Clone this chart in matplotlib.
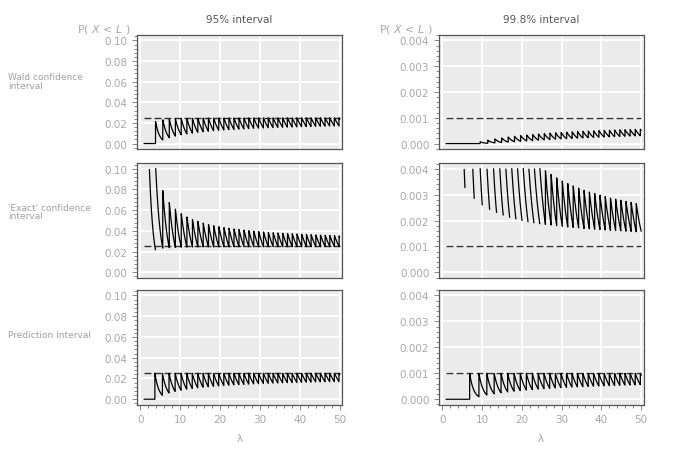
import numpy as np
import matplotlib
matplotlib.use("Agg")
import matplotlib.pyplot as plt
from matplotlib.ticker import FixedLocator, AutoMinorLocator
from math import lgamma

# ---- chart parameters / data ----
lambda_start = 1.0
lambda_stop = 50.0
lambda_step = 0.01
col_titles = ["95% interval", "99.8% interval"]
row_labels = ["Wald confidence\ninterval", "'Exact' confidence\ninterval", "Prediction interval"]
levels = [0.95, 0.998]
z_values = [1.959964, 3.090232]
y_caps = [0.10, 0.004]
y_ticks_95 = [0.00, 0.02, 0.04, 0.06, 0.08, 0.10]
y_ticks_998 = [0.000, 0.001, 0.002, 0.003, 0.004]
y_tick_fmt = ["{:.2f}", "{:.3f}"]
x_ticks = [0, 10, 20, 30, 40, 50]

# ---- Poisson machinery ----
lam = np.arange(lambda_start, lambda_stop + lambda_step / 2, lambda_step)
m = np.arange(0, 91)
vlgamma = np.vectorize(lgamma)
logpmf = m[:, None] * np.log(lam[None, :]) - lam[None, :] - vlgamma(m + 1.0)[:, None]
pmf = np.exp(logpmf)
cdf = np.cumsum(pmf, axis=0)

# regularized lower incomplete gamma P(a=lam, x=m)
a = lam[None, :]
x = m[:, None].astype(float)
term = np.ones((len(m), len(lam)))
S = np.ones((len(m), len(lam)))
for n in range(1, 500):
    term = term * x / (a + n)
    S = S + term
logpref = a * np.log(np.where(x > 0, x, 1.0)) - x - vlgamma(lam + 1.0)[None, :]
Pgam = np.where(x > 0, np.exp(logpref) * S, 0.0)


def wald_p(alpha2, z):
    L = lam - z * np.sqrt(lam)
    return np.where(m[:, None] < L[None, :], pmf, 0.0).sum(axis=0)


def exact_p(alpha2):
    return np.where(Pgam < alpha2, pmf, 0.0).sum(axis=0)


def pred_p(alpha2):
    return np.where(cdf <= alpha2, cdf, 0.0).max(axis=0)


# ---- figure ----
W, H = 685, 456
fig = plt.figure(figsize=(W / 100, H / 100), dpi=100)

col_x = [(137, 342), (439, 643.5)]
row_y = [(36, 150), (164.3, 278.8), (291, 405.7)]
xlims = (-0.8, 50.6)
ylims = [(-0.0053, 0.1053), (-0.00021, 0.00421)]
label_offsets = [11, 9, 13]

tick_col = "#a8a8a8"
fs = 7.5

for c in range(2):
    alpha2 = (1 - levels[c]) / 2
    series = [wald_p(alpha2, z_values[c]), exact_p(alpha2), pred_p(alpha2)]
    yt = y_ticks_95 if c == 0 else y_ticks_998
    for r in range(3):
        x0, x1 = col_x[c]
        y0, y1 = row_y[r]
        ax = fig.add_axes([x0 / W, 1 - y1 / H, (x1 - x0) / W, (y1 - y0) / H])
        ax.set_facecolor("#ebebeb")
        ax.set_xlim(*xlims)
        ax.set_ylim(*ylims[c])
        ax.xaxis.set_major_locator(FixedLocator(x_ticks))
        ax.xaxis.set_minor_locator(AutoMinorLocator(5))
        ax.yaxis.set_major_locator(FixedLocator(yt))
        ax.yaxis.set_minor_locator(AutoMinorLocator(5))
        ax.grid(True, which="major", color="white", lw=1.3)
        ax.set_axisbelow(True)
        for s in ax.spines.values():
            s.set_color("#555555")
            s.set_linewidth(0.9)
        ax.tick_params(axis="both", which="both", colors="#888888", labelcolor=tick_col,
                       labelsize=fs, width=0.7, direction="out")
        ax.tick_params(which="major", length=3.5)
        ax.tick_params(which="minor", length=2)
        ax.set_yticklabels([y_tick_fmt[c].format(v) for v in yt])
        if r < 2:
            ax.tick_params(axis="x", which="both", bottom=False, labelbottom=False)
        else:
            ax.set_xlabel("λ", color=tick_col, fontsize=fs, labelpad=6)

        p = series[r]
        p_plot = np.where(p <= y_caps[c] + 1e-12, p, np.nan)
        ax.plot([lambda_start, lambda_stop], [alpha2, alpha2], color="#333333",
                lw=1.0, dashes=(5, 2.2))
        ax.plot(lam, p_plot, color="black", lw=0.9)

        if c == 0:
            fig.text(8 / W, 1 - ((y0 + y1) / 2 - label_offsets[r]) / H, row_labels[r],
                     color="#a0a0a0", fontsize=6.5, ha="left", va="center",
                     linespacing=0.95)
        if r == 0:
            fig.text((x0 + x1) / 2 / W, 1 - 20 / H, col_titles[c], color="#555555",
                     fontsize=fs, ha="center", va="center")
            fig.text((x0 - 6) / W, 1 - 29.5 / H, r"P( $X$ < $L$ )", color=tick_col,
                     fontsize=8, ha="right", va="center")

fig.savefig("out.png", dpi=100)
